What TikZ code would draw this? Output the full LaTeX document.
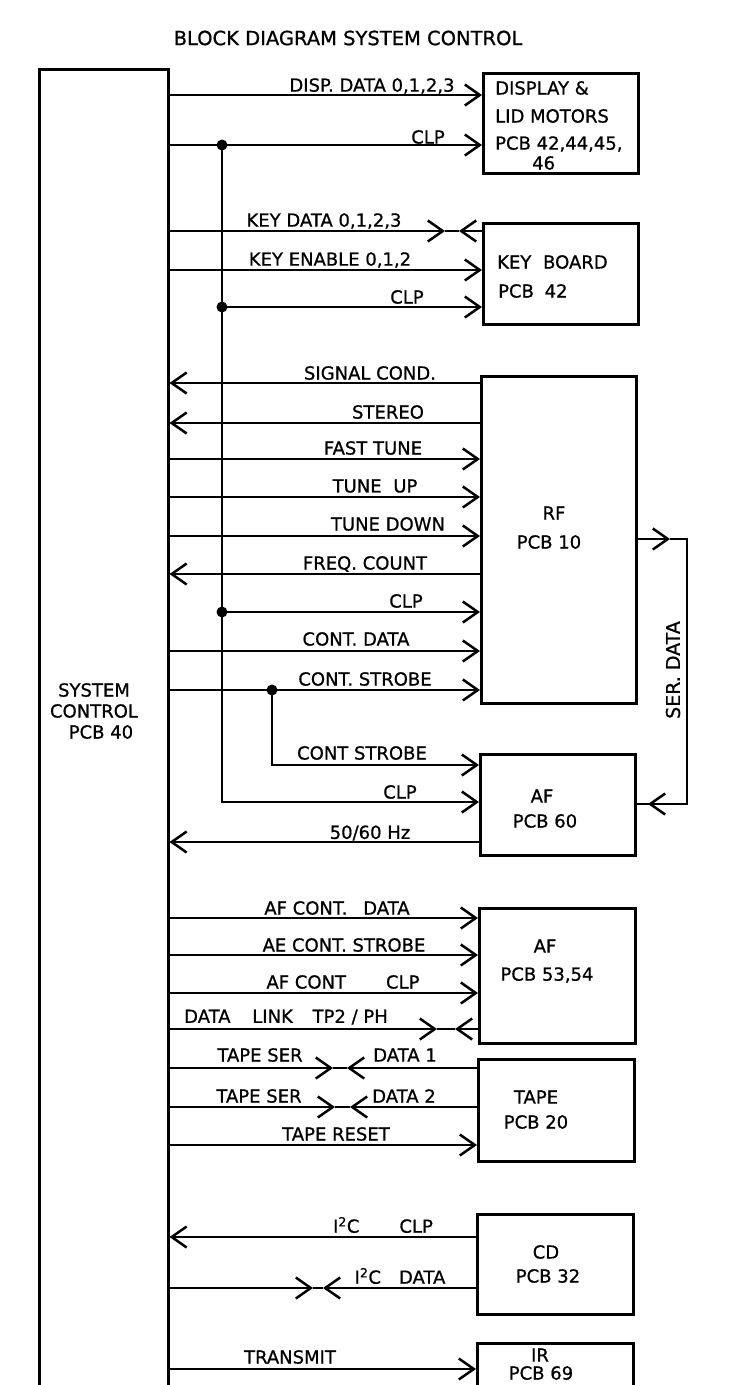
\documentclass[tikz,border=0pt]{standalone}
\usepackage{fontspec}
\setmainfont{DejaVu Sans}[FakeBold=0.8]
\usetikzlibrary{arrows.meta}
\begin{document}
\begin{tikzpicture}[x=1pt,y=-1pt,
  every node/.style={font=\fontsize{18}{21}\selectfont, inner sep=0pt},
  ln/.style={line width=2.5pt},
  arw/.style={ln, -{Straight Barb[length=15pt,width=21pt]}},
  blk/.style={draw, line width=2.5pt, rectangle, anchor=north west, inner sep=0pt},
  dot/.style={circle, fill, minimum size=11pt, inner sep=0pt},
  lt/.style={anchor=west}
]
\useasboundingbox (0,0) rectangle (742,1385);
\clip (0,0) rectangle (742,1385);
\fill[white] (0,0) rectangle (742,1385);

% title
\node (title) at (348,38) {\fontsize{19.5}{22}\selectfont BLOCK DIAGRAM SYSTEM CONTROL};

% system control block
\node[blk, minimum width=129pt, minimum height=1400pt] (sys) at (38,68) {};
\node[align=center] (systxt) at (94,711) {SYSTEM\\CONTROL\\\hspace*{14pt}PCB 40};

% target blocks
\node[blk, minimum width=155pt, minimum height=100pt] (disp) at (482,72) {};
\node[blk, minimum width=155pt, minimum height=101pt] (kb) at (482,222) {};
\node[blk, minimum width=155pt, minimum height=327pt] (rf) at (480,375) {};
\node[blk, minimum width=155pt, minimum height=101pt] (af60) at (479,753) {};
\node[blk, minimum width=156pt, minimum height=135pt] (af53) at (478,907) {};
\node[blk, minimum width=156pt, minimum height=102pt] (tape) at (477,1058) {};
\node[blk, minimum width=156pt, minimum height=100pt] (cd) at (476,1213) {};
\node[blk, minimum width=156pt, minimum height=100pt] (ir) at (476,1342) {};

% block texts
\node[lt] (dispT1) at (495,88) {DISPLAY \&};
\node[lt] (dispT2) at (495,116) {LID MOTORS};
\node[lt] (dispT3) at (495,144) {PCB 42,44,45,};
\node[lt] (dispT4) at (532,163) {46};
\node[lt] (kbT1) at (497,262) {KEY\hspace{6pt} BOARD};
\node[lt] (kbT2) at (498,291) {PCB\hspace{5pt} 42};
\node (rfT1) at (554,513) {RF};
\node (rfT2) at (549,542) {PCB 10};
\node (af60T1) at (542,796) {AF};
\node (af60T2) at (545,821) {PCB 60};
\node (af53T1) at (545,946) {AF};
\node (af53T2) at (547,975) {PCB 53,54};
\node (tapeT1) at (536,1097) {TAPE};
\node (tapeT2) at (536,1122) {PCB 20};
\node (cdT1) at (546,1252) {CD};
\node (cdT2) at (548,1276) {PCB 32};
\node (irT1) at (540,1355) {IR};
\node (irT2) at (541,1373) {PCB 69};

% bus junctions
\node[dot] (j1) at (222,145) {};
\node[dot] (j2) at (222,307) {};
\node[dot] (j3) at (222,612) {};
\node[dot] (j4) at (272,690) {};
\coordinate (b1) at (222,802);
\coordinate (b2) at (272,765);

% display
\draw[arw] (sys.east |- 0,95) -- (disp.west |- 0,95);
\draw[arw] (sys.east |- j1) -- (disp.west |- j1);
\node (lDD) at (372,86) {DISP. DATA 0,1,2,3};
\node (lC1) at (428,137) {CLP};

% clock bus
\draw[arw] (j1.center) -- (b1) -- (af60.west |- b1);

% keyboard
\coordinate (kdR) at (445,231);
\coordinate (kdL) at (459,231);
\draw[arw] (sys.east |- kdR) -- (kdR);
\draw[ln] (kdR) -- (kdL);
\draw[arw] (kb.west |- kdL) -- (kdL);
\draw[arw] (sys.east |- 0,270) -- (kb.west |- 0,270);
\draw[arw] (j2.center) -- (kb.west |- j2);
\node (lKD) at (324,221) {KEY DATA 0,1,2,3};
\node (lKE) at (330,260) {KEY ENABLE 0,1,2};
\node (lC2) at (407,297) {CLP};

% RF
\draw[arw] (rf.west |- 0,383) -- (sys.east |- 0,383);
\draw[arw] (rf.west |- 0,423) -- (sys.east |- 0,423);
\draw[arw] (sys.east |- 0,459) -- (rf.west |- 0,459);
\draw[arw] (sys.east |- 0,497) -- (rf.west |- 0,497);
\draw[arw] (sys.east |- 0,536) -- (rf.west |- 0,536);
\draw[arw] (rf.west |- 0,574) -- (sys.east |- 0,574);
\draw[arw] (j3.center) -- (rf.west |- j3);
\draw[arw] (sys.east |- 0,651) -- (rf.west |- 0,651);
\draw[arw] (sys.east |- j4) -- (rf.west |- j4);
\node (lSC) at (370,373) {SIGNAL COND.};
\node (lST) at (388,412) {STEREO};
\node (lFT) at (373,448) {FAST TUNE};
\node (lTU) at (375,486) {TUNE\hspace{6pt} UP};
\node (lTD) at (388,524) {TUNE DOWN};
\node (lFC) at (365,564) {FREQ. COUNT};
\node (lC3) at (406,601) {CLP};
\node (lCD) at (356,639) {CONT. DATA};
\node (lCS) at (365,679) {CONT. STROBE};

% AF 60
\draw[arw] (j4.center) -- (b2) -- (af60.west |- b2);
\draw[arw] (af60.west |- 0,842) -- (sys.east |- 0,842);
\node (lCS2) at (362,753) {CONT STROBE};
\node (lC4) at (400,792) {CLP};
\node (lHz) at (370,833) {50/60 Hz};

% SER. DATA
\coordinate (sdA) at (670,539);
\coordinate (sdB) at (687,539);
\coordinate (sdC) at (687,804);
\coordinate (sdD) at (648,804);
\draw[arw] (rf.east |- sdA) -- (sdA);
\draw[ln] (sdA) -- (sdB) -- (sdC) -- (af60.east |- sdC);
\draw[arw] (sdC) -- (sdD);
\node[rotate=90] (lSD) at (673,670) {\fontsize{19}{21}\selectfont SER. DATA};

% AF 53,54
\draw[arw] (sys.east |- 0,918) -- (af53.west |- 0,918);
\draw[arw] (sys.east |- 0,955) -- (af53.west |- 0,955);
\draw[arw] (sys.east |- 0,993) -- (af53.west |- 0,993);
\coordinate (dlR) at (437,1029);
\coordinate (dlL) at (455,1029);
\draw[arw] (sys.east |- dlR) -- (dlR);
\draw[ln] (dlR) -- (dlL);
\draw[arw] (af53.west |- dlL) -- (dlL);
\node (lAD) at (337,908) {AF CONT.\hspace{10pt} DATA};
\node (lAS) at (344,945) {AE CONT. STROBE};
\node (lAC) at (343,982) {AF CONT\hspace{40pt}CLP};
\node (lDL) at (286,1017) {DATA\hspace{16pt} LINK\hspace{14pt} TP2 / PH};

% TAPE
\coordinate (t1R) at (333,1068);
\coordinate (t1L) at (347,1068);
\draw[arw] (sys.east |- t1R) -- (t1R);
\draw[ln] (t1R) -- (t1L);
\draw[arw] (tape.west |- t1L) -- (t1L);
\coordinate (t2R) at (335,1107);
\coordinate (t2L) at (350,1107);
\draw[arw] (sys.east |- t2R) -- (t2R);
\draw[ln] (t2R) -- (t2L);
\draw[arw] (tape.west |- t2L) -- (t2L);
\draw[arw] (sys.east |- 0,1145) -- (tape.west |- 0,1145);
\node (lTS1) at (260,1055) {TAPE SER};
\node (lD1) at (405,1055) {DATA 1};
\node (lTS2) at (259,1096) {TAPE SER};
\node (lD2) at (404,1096) {DATA 2};
\node (lTR) at (336,1134) {TAPE RESET};

% CD
\draw[arw] (cd.west |- 0,1237) -- (sys.east |- 0,1237);
\coordinate (cdR) at (313,1288);
\coordinate (cdL) at (323,1288);
\draw[arw] (sys.east |- cdR) -- (cdR);
\draw[ln] (cdR) -- (cdL);
\draw[arw] (cd.west |- cdL) -- (cdL);
\node (lIC) at (383,1225) {I\textsuperscript{2}C\hspace{40pt}CLP};
\node (lID) at (400,1276) {I\textsuperscript{2}C\hspace{18pt}DATA};

% IR
\draw[arw] (sys.east |- 0,1369) -- (ir.west |- 0,1369);
\node (lTX) at (290,1357) {TRANSMIT};
\end{tikzpicture}
\end{document}
